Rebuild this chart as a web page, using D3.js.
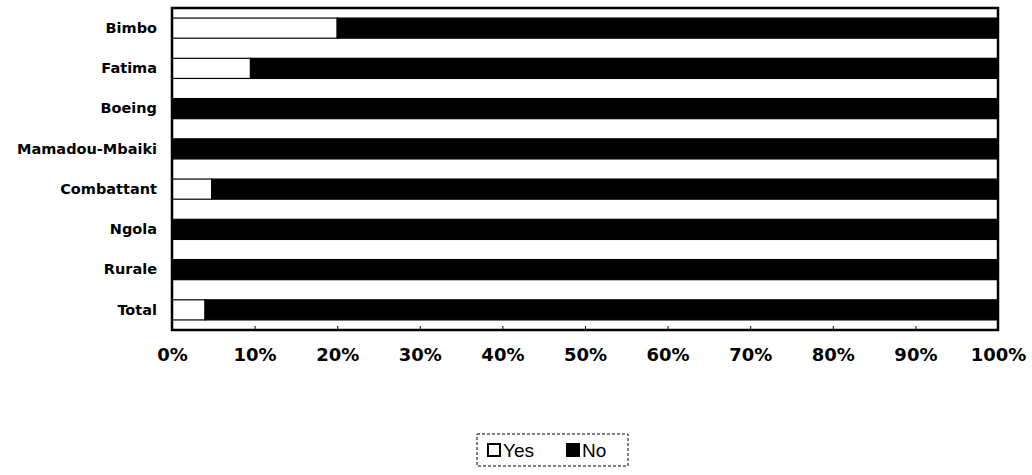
<!DOCTYPE html>
<html>
<head>
<meta charset="utf-8">
<script src="https://cdn.jsdelivr.net/npm/d3@7"></script>
<style>
  body { margin: 0; background: #fff; }
  svg { display: block; }
</style>
</head>
<body>
<svg id="chart" width="1032" height="475"></svg>
<script>
// Share of respondents answering Yes / No, per district
const categories = ["Bimbo", "Fatima", "Boeing", "Mamadou-Mbaiki", "Combattant", "Ngola", "Rurale", "Total"];
const yesValues = [20, 9.5, 0, 0, 4.8, 0, 0, 4];
const noValues = [80, 90.5, 100, 100, 95.2, 100, 100, 96];
const seriesNames = ["Yes", "No"];
const tickValues = [0, 10, 20, 30, 40, 50, 60, 70, 80, 90, 100];

const svg = d3.select("#chart");
const margin = { left: 172, right: 34, top: 8, bottom: 145 };
const W = 1032, H = 475;

const x = d3.scaleLinear().domain([0, 100]).range([margin.left, W - margin.right]);
const y = d3.scaleBand().domain(categories).range([margin.top, H - margin.bottom]).paddingInner(0.5).paddingOuter(0.25);

const rows = categories.map((c, i) => ({ cat: c, Yes: yesValues[i], No: noValues[i] }));
const stacked = d3.stack().keys(seriesNames)(rows);
const fills = { Yes: "#fff", No: "#000" };

// bars
svg.append("g").selectAll("g").data(stacked).join("g")
  .attr("fill", d => fills[d.key])
  .attr("stroke", "#000")
  .attr("stroke-width", 1.2)
  .selectAll("rect").data(d => d).join("rect")
  .attr("x", d => x(d[0]))
  .attr("y", d => y(d.data.cat))
  .attr("width", d => Math.max(0, x(d[1]) - x(d[0])))
  .attr("height", y.bandwidth());

// plot frame
svg.append("rect")
  .attr("x", x(0)).attr("y", margin.top)
  .attr("width", x(100) - x(0)).attr("height", H - margin.bottom - margin.top)
  .attr("fill", "none").attr("stroke", "#000").attr("stroke-width", 2.5);

// x axis
const xAxis = svg.append("g")
  .attr("transform", `translate(0,${H - margin.bottom})`)
  .call(d3.axisBottom(x).tickValues(tickValues).tickFormat(d => d + "%").tickSizeInner(-4).tickSizeOuter(0).tickPadding(18));
xAxis.select(".domain").remove();
xAxis.selectAll("line").attr("stroke", "#000").attr("stroke-width", 1);
xAxis.selectAll("text")
  .attr("font-family", "DejaVu Sans, sans-serif")
  .attr("font-size", 18).attr("font-weight", "bold").attr("fill", "#000");

// y axis
const yAxis = svg.append("g")
  .attr("transform", `translate(${x(0)},0)`)
  .call(d3.axisLeft(y).tickSize(0).tickPadding(15));
yAxis.select(".domain").remove();
yAxis.selectAll("text")
  .attr("font-family", "DejaVu Sans, sans-serif")
  .attr("font-size", 14.5).attr("font-weight", "bold").attr("fill", "#000");

// legend
const lg = svg.append("g").attr("transform", "translate(477,434)");
lg.append("rect").attr("width", 151).attr("height", 32)
  .attr("fill", "#fff").attr("stroke", "#000").attr("stroke-width", 1).attr("stroke-dasharray", "3,2");
const items = lg.selectAll("g.item").data(seriesNames).join("g")
  .attr("class", "item")
  .attr("transform", (d, i) => `translate(${i === 0 ? 11 : 90},0)`);
items.append("rect").attr("x", 0).attr("y", 10).attr("width", 12).attr("height", 12)
  .attr("fill", d => fills[d]).attr("stroke", "#000").attr("stroke-width", 2);
items.append("text").attr("x", 15).attr("y", 23)
  .attr("font-family", "Liberation Sans, Arial, sans-serif")
  .attr("font-size", 19).attr("fill", "#000")
  .text(d => d);
</script>
</body>
</html>
